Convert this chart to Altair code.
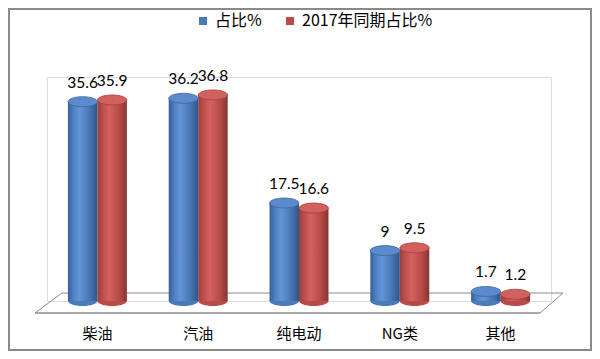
import altair as alt
import pandas as pd

categories = ["柴油", "汽油", "纯电动", "NG类", "其他"]
series = ["占比%", "2017年同期占比%"]
share = [35.6, 36.2, 17.5, 9, 1.7]
share_2017 = [35.9, 36.8, 16.6, 9.5, 1.2]

rows = []
for c, a, b in zip(categories, share, share_2017):
    rows.append({"cat": c, "series": series[0], "value": a, "label": f"{a:g}", "base": 0})
    rows.append({"cat": c, "series": series[1], "value": b, "label": f"{b:g}", "base": 0})
df = pd.DataFrame(rows)

ELLIPSE = "M -1 0 A 1 0.34 0 1 0 1 0 A 1 0.34 0 1 0 -1 0 Z"
CAP_SIZE = 860
CJK = "Noto Sans CJK SC"

x_enc = alt.X("cat:N", sort=categories,
              scale=alt.Scale(paddingInner=0.415, paddingOuter=0.2075),
              axis=alt.Axis(title=None, labelAngle=0, domain=False, ticks=False,
                            labelFont=CJK, labelFontSize=15, labelColor="#000000",
                            labelPadding=25))
xo_enc = alt.XOffset("series:N", sort=series,
                     scale=alt.Scale(domain=series, paddingInner=0, paddingOuter=0))
y_scale = alt.Scale(domain=[0, 40], nice=False)

base = alt.Chart(df)

grads = {
    series[0]: ["#36609a", "#4f82c4", "#6394d6", "#4674b2", "#2f5589"],
    series[1]: ["#96403d", "#c0504d", "#d4625e", "#b44a47", "#853532"],
}
tops = {series[0]: ("#5b8bcc", "#3d679f"), series[1]: ("#d2605c", "#a3403d")}


def gradient(cols):
    offs = [0, 0.2, 0.4, 0.75, 1]
    return alt.Gradient(gradient="linear", x1=0, x2=1, y1=0, y2=0,
                        stops=[alt.GradientStop(offset=o, color=c) for o, c in zip(offs, cols)])


# floor parallelogram (decoration)
one = alt.Data(values=[{"d": 1}])
floor_col = "#8c8c8c"
floor = [
    alt.Chart(one).mark_rule(color=floor_col, strokeWidth=1).encode(
        x=alt.value(15), x2=alt.value(516), y=alt.value(216), y2=alt.value(216)),
    alt.Chart(one).mark_rule(color=floor_col, strokeWidth=1.5).encode(
        x=alt.value(-12), x2=alt.value(493), y=alt.value(236), y2=alt.value(236)),
    alt.Chart(one).mark_rule(color=floor_col, strokeWidth=1).encode(
        x=alt.value(-12), x2=alt.value(15), y=alt.value(236), y2=alt.value(216)),
    alt.Chart(one).mark_rule(color=floor_col, strokeWidth=1).encode(
        x=alt.value(493), x2=alt.value(516), y=alt.value(236), y2=alt.value(216)),
]

border = alt.Chart(one).mark_rect(filled=False, stroke="#8a8a8a", strokeWidth=2).encode(
    x=alt.value(-38), x2=alt.value(544), y=alt.value(-68), y2=alt.value(273))

bottoms = base.mark_point(shape=ELLIPSE, size=CAP_SIZE, filled=True, opacity=1).encode(
    x=x_enc, xOffset=xo_enc,
    y=alt.Y("base:Q", scale=y_scale, axis=None),
    color=alt.Color("series:N", sort=series,
                    scale=alt.Scale(domain=series, range=["#4a7ab8", "#b84a47"]),
                    legend=alt.Legend(title=None, orient="none", legendX=148, legendY=-64,
                                      direction="horizontal", symbolType="square",
                                      symbolSize=64, symbolOpacity=1, symbolStrokeWidth=0,
                                      labelFont=CJK, labelFontSize=16, labelColor="#000000",
                                      columnPadding=20, labelOffset=4, symbolOffset=0)),
)

bars = []
caps = []
for s in series:
    bars.append(base.transform_filter(alt.datum.series == s).mark_bar(
        fill=gradient(grads[s]), stroke=None).encode(
        x=x_enc, xOffset=xo_enc,
        y=alt.Y("value:Q", scale=y_scale, axis=None),
        y2=alt.Y2("base:Q")))
    caps.append(base.transform_filter(alt.datum.series == s).mark_point(
        shape=ELLIPSE, size=CAP_SIZE, filled=True, opacity=1,
        fill=tops[s][0], stroke=tops[s][1], strokeWidth=0.8).encode(
        x=x_enc, xOffset=xo_enc,
        y=alt.Y("value:Q", scale=y_scale, axis=None)))

labels = base.mark_text(baseline="bottom", dy=-11, fontSize=15.5, font="Lato", color="#000000").encode(
    x=x_enc, xOffset=xo_enc,
    y=alt.Y("value:Q", scale=y_scale, axis=None),
    text="label:N")

chart = alt.layer(border, *floor, bottoms, *bars, *caps, labels).properties(
    width=504, height=224,
    autosize=alt.AutoSizeParams(type="none"),
    padding={"left": 39, "top": 69, "right": 41, "bottom": 50},
).configure_view(stroke=None).configure(background="#ffffff")

chart.save("out.html", embed_options={"renderer": "svg", "actions": False})
